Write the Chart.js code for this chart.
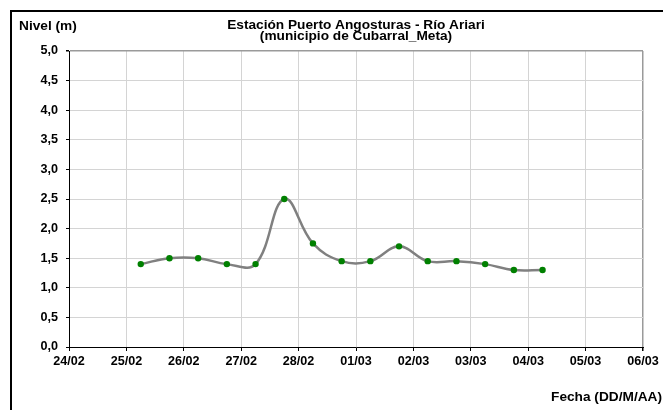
<!DOCTYPE html>
<html>
<head>
<meta charset="utf-8">
<script src="https://cdn.jsdelivr.net/npm/chart.js@4/dist/chart.umd.min.js"></script>
<style>
  html, body { margin: 0; padding: 0; background: #fff; }
  #wrap { position: relative; width: 663px; height: 410px; }
</style>
</head>
<body>
<div id="wrap"><canvas id="c" width="663" height="410"></canvas></div>
<script>
// ---- Data ----
const tituloLinea1 = 'Estación Puerto Angosturas - Río Ariari';
const tituloLinea2 = '(municipio de Cubarral_Meta)';
const ejeY = 'Nivel (m)';
const ejeX = 'Fecha (DD/M/AA)';

const tickLabels = ['24/02','25/02','26/02','27/02','28/02','01/03','02/03','03/03','04/03','05/03','06/03'];

const fechas = [
  '25/02 06:00','25/02 18:00','26/02 06:00','26/02 18:00','27/02 06:00',
  '27/02 18:00','28/02 06:00','28/02 18:00','01/03 06:00','01/03 18:00',
  '02/03 06:00','02/03 18:00','03/03 06:00','03/03 18:00','04/03 06:00'
];
const niveles = [1.4, 1.5, 1.5, 1.4, 1.4, 2.5, 1.75, 1.45, 1.45, 1.7, 1.45, 1.45, 1.4, 1.3, 1.3];

const yTicks = [0, 0.5, 1, 1.5, 2, 2.5, 3, 3.5, 4, 4.5, 5];

// position of each sample in days from the first tick
function diaDesdeInicio(f) {
  const [d, h] = f.split(' ');
  const [hh, mm] = h.split(':').map(Number);
  return tickLabels.indexOf(d) + (hh + mm / 60) / 24;
}
const puntos = fechas.map((f, i) => ({ x: diaDesdeInicio(f), y: niveles[i] }));

const FONT = '"Liberation Sans", Arial, sans-serif';
const STRETCH = 1.14;
const GRID = '#d4d4d4';
const FRAME = '#9a9a9a';

function texto(ctx, s, x, y, align) {
  ctx.save();
  ctx.translate(x, y);
  ctx.scale(STRETCH, 1);
  ctx.textAlign = align;
  ctx.textBaseline = 'middle';
  ctx.fillText(s, 0, 0);
  ctx.restore();
}

const decor = {
  id: 'decor',
  beforeDraw(chart) {
    const ctx = chart.ctx;
    ctx.save();
    ctx.fillStyle = '#fff';
    ctx.fillRect(0, 0, chart.width, chart.height);
    ctx.restore();
  },
  afterDraw(chart) {
    const ctx = chart.ctx;
    const a = chart.chartArea;
    ctx.save();
    // outer frame (left and top)
    ctx.fillStyle = '#000';
    ctx.fillRect(10, 10, 2, chart.height - 10);
    ctx.fillRect(10, 10, chart.width - 10, 2);
    // title
    ctx.font = 'bold 12px ' + FONT;
    const cx = (a.left + a.right) / 2;
    texto(ctx, tituloLinea1, cx, 26, 'center');
    texto(ctx, tituloLinea2, cx, 37, 'center');
    // axis titles
    texto(ctx, ejeY, 19, 27, 'left');
    texto(ctx, ejeX, 662, 398, 'right');
    ctx.restore();
  }
};

new Chart(document.getElementById('c'), {
  type: 'line',
  data: {
    datasets: [{
      data: puntos,
      borderColor: '#808080',
      borderWidth: 2.5,
      tension: 0.4,
      pointBackgroundColor: '#008000',
      pointBorderColor: '#008000',
      pointBorderWidth: 0,
      pointRadius: 3.2,
      fill: false
    }]
  },
  plugins: [decor],
  options: {
    responsive: false,
    animation: false,
    devicePixelRatio: 1,
    layout: { padding: { left: 0, right: 20, top: 51, bottom: 0 } },
    plugins: { legend: { display: false }, title: { display: false }, tooltip: { enabled: false } },
    scales: {
      x: {
        type: 'linear',
        min: 0,
        max: tickLabels.length - 1,
        afterFit: s => { s.height = 63; },
        afterBuildTicks: s => { s.ticks = tickLabels.map((_, i) => ({ value: i })); },
        ticks: {
          autoSkip: false,
          maxRotation: 0,
          padding: 3,
          color: '#000',
          font: { family: FONT, size: 12.6, weight: 'bold' },
          callback: v => tickLabels[v]
        },
        grid: {
          color: c => (c.tick && c.tick.value === tickLabels.length - 1) ? FRAME : GRID,
          lineWidth: c => (c.tick && c.tick.value === tickLabels.length - 1) ? 1.5 : 1,
          tickColor: '#000',
          tickLength: 4
        },
        border: { color: '#000', width: 1 }
      },
      y: {
        min: 0,
        max: 5,
        afterFit: s => { s.width = 69; },
        afterBuildTicks: s => { s.ticks = yTicks.map(v => ({ value: v })); },
        ticks: {
          padding: 8,
          color: '#000',
          font: { family: FONT, size: 12.6, weight: 'bold' },
          callback: v => v.toFixed(1).replace('.', ',')
        },
        grid: {
          color: c => (c.tick && c.tick.value === 5) ? FRAME : GRID,
          lineWidth: c => (c.tick && c.tick.value === 5) ? 1.5 : 1,
          tickColor: '#000',
          tickLength: 3
        },
        border: { color: '#000', width: 1 }
      }
    }
  }
});
</script>
</body>
</html>
